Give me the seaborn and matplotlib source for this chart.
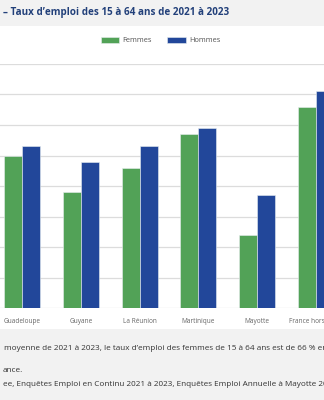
import matplotlib
matplotlib.use("Agg")
import matplotlib.pyplot as plt
import seaborn as sns
import pandas as pd
from matplotlib.patches import Rectangle

categories = ["Guadeloupe", "Guyane", "La Réunion", "Martinique", "Mayotte", "France hors DOM"]
series = ["Femmes", "Hommes"]
femmes = [50, 38, 46, 57, 24, 66]
hommes = [53, 48, 53, 59, 37, 71]
yticks = [0, 10, 20, 30, 40, 50, 60, 70, 80]

title = "– Taux d’emploi des 15 à 64 ans de 2021 à 2023"
note_lines = [
    "moyenne de 2021 à 2023, le taux d’emploi des femmes de 15 à 64 ans est de 66 % en France hors DOM.",
    "ance.",
    "ee, Enquêtes Emploi en Continu 2021 à 2023, Enquêtes Emploi Annuelle à Mayotte 2021 à 2023.",
]

df = pd.DataFrame({
    "territoire": categories * 2,
    "sexe": [series[0]] * len(categories) + [series[1]] * len(categories),
    "taux": femmes + hommes,
})

sns.set_theme(style="white")
plt.rcParams['font.family'] = ['Open Sans', 'DejaVu Sans']

W, H = 324, 400
fig = plt.figure(figsize=(W / 100, H / 100), dpi=100)
fig.patch.set_facecolor("white")
gray = "#f2f2f2"
fig.patches.append(Rectangle((0, 1 - 26 / H), 1, 26 / H, transform=fig.transFigure,
                             facecolor=gray, edgecolor="none", zorder=0))
fig.patches.append(Rectangle((0, 0), 1, 71 / H, transform=fig.transFigure,
                             facecolor=gray, edgecolor="none", zorder=0))

ax = fig.add_axes([-7.4 / W, 92 / H, 352.8 / W, 244 / H])
ax.set_facecolor("none")
green, blue = "#52a257", "#22479a"
sns.barplot(data=df, x="territoire", y="taux", hue="sexe", hue_order=series,
            palette=[green, blue], width=0.61, saturation=1, ax=ax, errorbar=None,
            edgecolor="#e8eef0", linewidth=0.4)

ax.set_ylim(0, 80)
ax.set_xlim(-0.5, len(categories) - 0.5)
ax.set_yticks(yticks)
ax.yaxis.grid(True, color="#dcdcdc", linewidth=0.9)
ax.set_axisbelow(True)
for s in ax.spines.values():
    s.set_visible(False)
ax.set_xlabel("")
ax.set_ylabel("")
ax.tick_params(axis="y", left=False, labelleft=False)
ax.tick_params(axis="x", length=0, pad=7.5, labelsize=4.7, labelcolor="#666666")

sns.move_legend(ax, "center", bbox_to_anchor=(160.7 / W, 1 - 40.5 / H),
                bbox_transform=fig.transFigure, ncol=2, frameon=False, title=None,
                fontsize=5.4, handlelength=2.48, handleheight=0.84, columnspacing=2.05,
                handletextpad=0.45, borderpad=0, borderaxespad=0)
for t in ax.get_legend().get_texts():
    t.set_color("#555555")

fig.text(3 / W, 1 - 13 / H, title, fontsize=7.1, fontweight="bold", color="#22407a",
         va="center", ha="left")

note_kw = dict(fontsize=5.85, color="#333333")
xs = [4, 3, 3]
ys = [348, 371, 385]
for txt, x, y in zip(note_lines, xs, ys):
    fig.text(x / W, 1 - y / H, txt, va="center", ha="left", **note_kw)

fig.savefig("out.png", dpi=100)
